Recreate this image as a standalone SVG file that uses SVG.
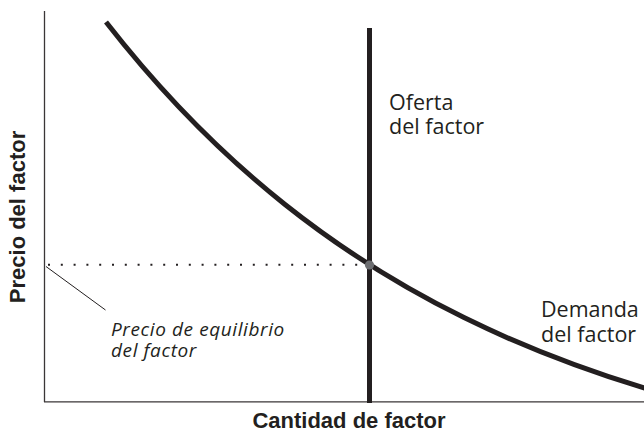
<svg xmlns="http://www.w3.org/2000/svg" width="644" height="431" viewBox="0 0 644 431">
<style>
.axis{stroke:#3a3637;stroke-width:1.3;fill:none}
.curve{stroke:#231f20;fill:none;stroke-width:5}
.lbl{font-family:"Open Sans","Liberation Sans",sans-serif;font-size:21.5px;fill:#231f20}
.it{font-family:"Open Sans","Liberation Sans",sans-serif;font-size:19px;font-style:italic;letter-spacing:0.6px;fill:#231f20}
.title{font-family:"Liberation Sans",Arial,sans-serif;font-size:22px;font-weight:bold;fill:#231f20}
</style>
<rect width="644" height="431" fill="#ffffff"/>
<g id="axes">
<line class="axis" x1="44.5" y1="11" x2="44.5" y2="402"/>
<line class="axis" x1="44" y1="401.8" x2="644" y2="401.8"/>
<text class="title" x="349" y="427.5" text-anchor="middle">Cantidad de factor</text>
<text class="title" transform="translate(25 217) rotate(-90)" text-anchor="middle">Precio del factor</text>
</g>
<g id="demand">
<path class="curve" d="M106,22 C165.67,98.53 225.33,157.07 285,204.5 C344.67,251.93 404.33,288.2 464,317.6 C524,347.17 584,369.72 646,388.6"/>
<text class="lbl" x="541" y="317">Demanda</text>
<text class="lbl" x="541" y="341.5">del factor</text>
</g>
<g id="supply">
<line class="curve" x1="369.5" y1="28" x2="369.5" y2="403" stroke-width="4.5"/>
<text class="lbl" x="389" y="110">Oferta</text>
<text class="lbl" x="389" y="133.5">del factor</text>
</g>
<g id="connectors">
<line x1="48" y1="264.8" x2="364" y2="264.8" stroke="#231f20" stroke-width="2" stroke-dasharray="2 10.8"/>
<line x1="46" y1="266.5" x2="105.5" y2="310" stroke="#231f20" stroke-width="1"/>
</g>
<g id="equilibrium">
<circle cx="369.5" cy="265" r="4.6" fill="#6d6e71"/>
<text class="it" x="111" y="335.5">Precio de equilibrio</text>
<text class="it" x="111" y="356.5">del factor</text>
</g>
</svg>
